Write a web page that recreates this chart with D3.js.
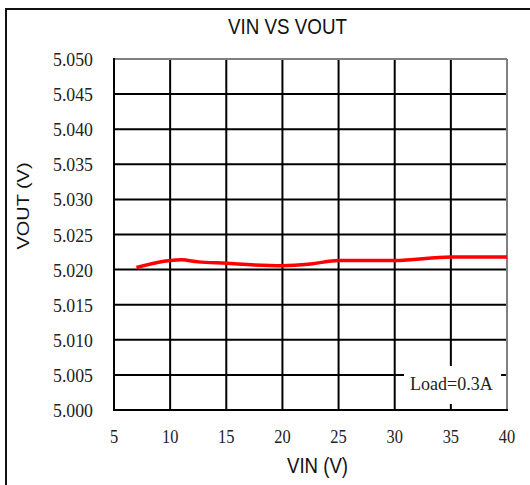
<!DOCTYPE html>
<html>
<head>
<meta charset="utf-8">
<script src="https://cdn.jsdelivr.net/npm/d3@7"></script>
<style>
  html, body { margin: 0; padding: 0; background: #fff; }
  svg { display: block; }
</style>
</head>
<body>
<script>
// ---- data ----
const title = "VIN VS VOUT";
const xLabel = "VIN (V)";
const yLabel = "VOUT (V)";
const legendText = "Load=0.3A";
const vin  = [7, 10, 11, 12.5, 15, 17.5, 20, 22.5, 25, 30, 35, 40];
const vout = [5.0203, 5.0213, 5.0214, 5.0211, 5.0209, 5.02066, 5.02056, 5.0208, 5.0213, 5.0213, 5.0218, 5.0218];
const xTicks = [5, 10, 15, 20, 25, 30, 35, 40];
const yTicks = [5.000, 5.005, 5.010, 5.015, 5.020, 5.025, 5.030, 5.035, 5.040, 5.045, 5.050];

const W = 530, H = 485;
const m = { left: 114, right: 23, top: 59, bottom: 75 };

const svg = d3.select("body").append("svg").attr("width", W).attr("height", H);

// outer frame (cropped at right & bottom)
svg.append("rect").attr("x", 6).attr("y", 9).attr("width", 600).attr("height", 600)
  .attr("fill", "none").attr("stroke", "#111").attr("stroke-width", 2);

const x = d3.scaleLinear().domain([5, 40]).range([m.left, W - m.right]);
const y = d3.scaleLinear().domain([5.000, 5.050]).range([H - m.bottom, m.top]);

// grid lines
const g = svg.append("g");
g.selectAll("line.v").data(xTicks.slice(1, -1)).join("line")
  .attr("x1", d => x(d)).attr("x2", d => x(d))
  .attr("y1", y(5.050)).attr("y2", y(5.000))
  .attr("stroke", "#000").attr("stroke-width", 2);
g.selectAll("line.h").data(yTicks.slice(1, -1)).join("line")
  .attr("x1", x(5)).attr("x2", x(40))
  .attr("y1", d => y(d)).attr("y2", d => y(d))
  .attr("stroke", "#000").attr("stroke-width", 2);

// plot frame: top & right gray, left & bottom black
svg.append("line").attr("x1", x(5)).attr("x2", x(40)).attr("y1", y(5.05)).attr("y2", y(5.05))
  .attr("stroke", "#808080").attr("stroke-width", 2);
svg.append("line").attr("x1", x(40)).attr("x2", x(40)).attr("y1", y(5.05)).attr("y2", y(5.0))
  .attr("stroke", "#808080").attr("stroke-width", 2);
svg.append("line").attr("x1", x(5)).attr("x2", x(5)).attr("y1", y(5.05) - 1).attr("y2", y(5.0) + 1)
  .attr("stroke", "#000").attr("stroke-width", 2);
svg.append("line").attr("x1", x(5) - 1).attr("x2", x(40) + 1).attr("y1", y(5.0)).attr("y2", y(5.0))
  .attr("stroke", "#000").attr("stroke-width", 2);

// legend box
svg.append("rect").attr("x", 404).attr("y", 366).attr("width", 97).attr("height", 38)
  .attr("fill", "#fff");
svg.append("text").attr("x", 410).attr("y", 390)
  .attr("font-family", "'Liberation Serif', 'Times New Roman', serif")
  .attr("font-size", 18).attr("fill", "#222").text(legendText);

// data line
const line = d3.line().x((d, i) => x(vin[i])).y(d => y(d)).curve(d3.curveMonotoneX);
svg.append("path").datum(vout).attr("d", line)
  .attr("fill", "none").attr("stroke", "#ff0000").attr("stroke-width", 3.5)
  .attr("stroke-linejoin", "round");

// tick labels
const serif = "'Liberation Serif', 'Times New Roman', serif";
svg.append("g").selectAll("text").data(yTicks).join("text")
  .attr("x", 93).attr("y", d => y(d) + 7)
  .attr("text-anchor", "end")
  .attr("font-family", serif).attr("font-size", 19).attr("fill", "#222")
  .attr("textLength", 40).attr("lengthAdjust", "spacingAndGlyphs")
  .text(d => d3.format(".3f")(d));
svg.append("g").selectAll("text").data(xTicks).join("text")
  .attr("x", d => x(d)).attr("y", 443)
  .attr("text-anchor", "middle")
  .attr("font-family", serif).attr("font-size", 19).attr("fill", "#222")
  .attr("textLength", d => String(d).length * 8.2).attr("lengthAdjust", "spacingAndGlyphs")
  .text(d => d);

// titles
const sans = "'Liberation Sans Narrow', 'Liberation Sans', Arial, sans-serif";
svg.append("text").attr("x", 287.5).attr("y", 34).attr("text-anchor", "middle")
  .attr("font-family", sans).attr("font-size", 22).attr("fill", "#111")
  .attr("textLength", 119).attr("lengthAdjust", "spacingAndGlyphs")
  .text(title);
svg.append("text").attr("x", 317.5).attr("y", 473).attr("text-anchor", "middle")
  .attr("font-family", sans).attr("font-size", 22).attr("fill", "#111")
  .attr("textLength", 61).attr("lengthAdjust", "spacingAndGlyphs")
  .text(xLabel);
svg.append("text").attr("transform", "translate(29,206) rotate(-90)")
  .attr("text-anchor", "middle")
  .attr("font-family", "'Liberation Sans', Arial, sans-serif").attr("font-size", 16).attr("fill", "#111")
  .attr("textLength", 87).attr("lengthAdjust", "spacingAndGlyphs")
  .text(yLabel);
</script>
</body>
</html>
